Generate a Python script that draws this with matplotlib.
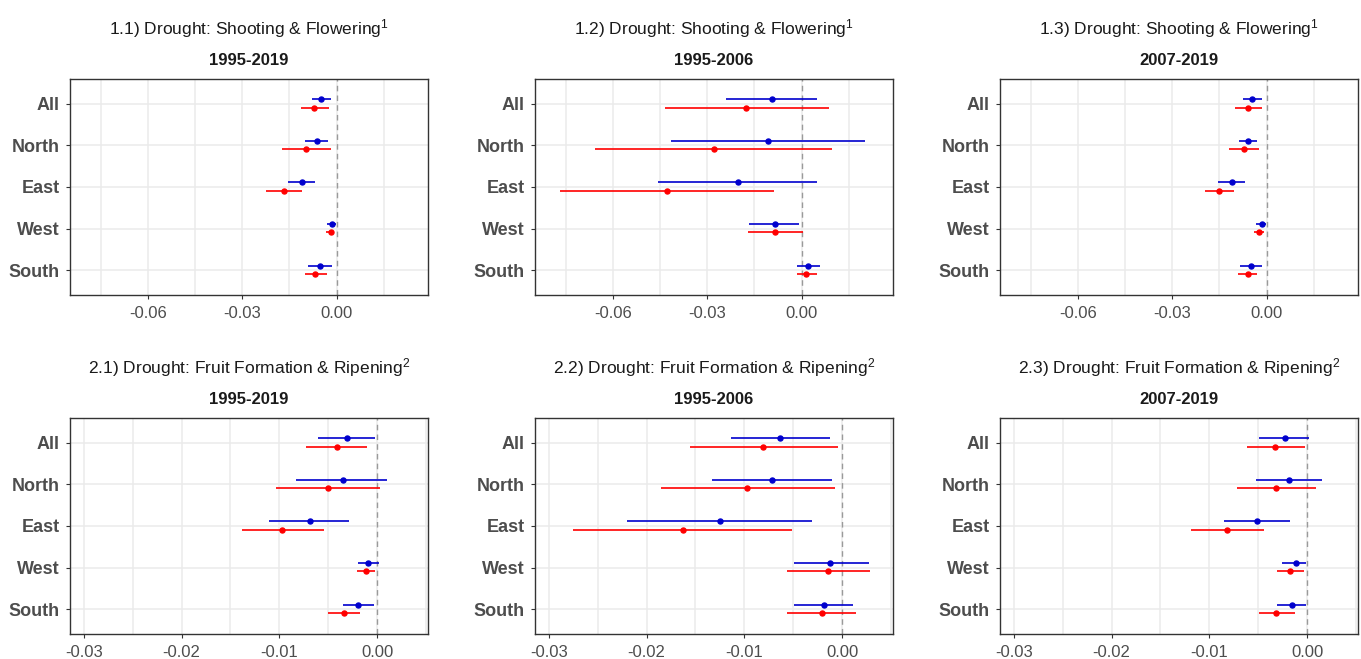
import matplotlib
matplotlib.use("Agg")
import matplotlib.pyplot as plt
import numpy as np

plt.rcParams["font.family"] = ["Liberation Sans", "DejaVu Sans"]
plt.rcParams["mathtext.fontset"] = "custom"
plt.rcParams["mathtext.rm"] = "Liberation Sans"
plt.rcParams["mathtext.default"] = "regular"

# --- Data ---

regions = ["All", "North", "East", "West", "South"]

# 1.1) Shooting & Flowering, 1995-2019
p11_blue = [-0.0050, -0.0063, -0.0110, -0.0014, -0.0053]
p11_blue_lo = [-0.0078, -0.0101, -0.0153, -0.0030, -0.0092]
p11_blue_hi = [-0.0019, -0.0027, -0.0068, -0.0002, -0.0014]
p11_red = [-0.0072, -0.0098, -0.0168, -0.0019, -0.0067]
p11_red_lo = [-0.0113, -0.0175, -0.0223, -0.0035, -0.0101]
p11_red_hi = [-0.0023, -0.0018, -0.0110, -0.0007, -0.0029]

# 1.2) Shooting & Flowering, 1995-2006
p12_blue = [-0.0093, -0.0106, -0.0202, -0.0085, 0.0020]
p12_blue_lo = [-0.0240, -0.0414, -0.0457, -0.0166, -0.0014]
p12_blue_hi = [0.0050, 0.0201, 0.0050, -0.0007, 0.0058]
p12_red = [-0.0177, -0.0280, -0.0427, -0.0085, 0.0015]
p12_red_lo = [-0.0435, -0.0656, -0.0769, -0.0169, -0.0014]
p12_red_hi = [0.0088, 0.0097, -0.0089, 0.0005, 0.0050]

# 1.3) Shooting & Flowering, 2007-2019
p13_blue = [-0.0046, -0.0059, -0.0111, -0.0015, -0.0051]
p13_blue_lo = [-0.0075, -0.0088, -0.0153, -0.0035, -0.0084]
p13_blue_hi = [-0.0013, -0.0029, -0.0068, -0.0003, -0.0013]
p13_red = [-0.0059, -0.0072, -0.0150, -0.0023, -0.0058]
p13_red_lo = [-0.0101, -0.0118, -0.0197, -0.0039, -0.0092]
p13_red_hi = [-0.0015, -0.0024, -0.0102, -0.0007, -0.0029]

# 2.1) Fruit Formation & Ripening, 1995-2019
p21_blue = [-0.00311, -0.00352, -0.00686, -0.00089, -0.00198]
p21_blue_lo = [-0.00601, -0.00826, -0.01106, -0.00198, -0.00352]
p21_blue_hi = [-0.00020, 0.00102, -0.00283, 0.00020, -0.00034]
p21_red = [-0.00410, -0.00505, -0.00969, -0.00116, -0.00338]
p21_red_lo = [-0.00730, -0.01038, -0.01386, -0.00208, -0.00505]
p21_red_hi = [-0.00102, 0.00034, -0.00539, -0.00020, -0.00174]

# 2.2) Fruit Formation & Ripening, 1995-2006
p22_blue = [-0.00635, -0.00720, -0.01249, -0.00119, -0.00188]
p22_blue_lo = [-0.01137, -0.01331, -0.02201, -0.00495, -0.00495]
p22_blue_hi = [-0.00123, -0.00106, -0.00304, 0.00270, 0.00116]
p22_red = [-0.00805, -0.00973, -0.01628, -0.00147, -0.00201]
p22_red_lo = [-0.01556, -0.01850, -0.02747, -0.00563, -0.00563]
p22_red_hi = [-0.00041, -0.00078, -0.00512, 0.00287, 0.00143]

# 2.3) Fruit Formation & Ripening, 2007-2019
p23_blue = [-0.00229, -0.00188, -0.00510, -0.00116, -0.00157]
p23_blue_lo = [-0.00493, -0.00520, -0.00845, -0.00257, -0.00311]
p23_blue_hi = [0.00020, 0.00147, -0.00174, -0.00007, -0.00007]
p23_red = [-0.00328, -0.00315, -0.00821, -0.00174, -0.00315]
p23_red_lo = [-0.00619, -0.00718, -0.01190, -0.00311, -0.00493]
p23_red_hi = [-0.00024, 0.00092, -0.00441, -0.00034, -0.00120]

titles = [
    "1.1) Drought: Shooting & Flowering$^1$",
    "1.2) Drought: Shooting & Flowering$^1$",
    "1.3) Drought: Shooting & Flowering$^1$",
    "2.1) Drought: Fruit Formation & Ripening$^2$",
    "2.2) Drought: Fruit Formation & Ripening$^2$",
    "2.3) Drought: Fruit Formation & Ripening$^2$",
]
periods = ["1995-2019", "1995-2006", "2007-2019"] * 2

top_ticks = [-0.06, -0.03, 0.00]
top_minor = [-0.075, -0.045, -0.015, 0.015]
bottom_ticks = [-0.03, -0.02, -0.01, 0.00]
bottom_minor = [-0.025, -0.015, -0.005, 0.005]

BLUE = "#0000CD"
RED = "#FF0000"
GREY30 = "#4D4D4D"
GRID = "#EBEBEB"


# --- Plot ---

def plot_panel(ax, blue, blue_lo, blue_hi, red, red_lo, red_hi,
               title, period, ticks, minor, xlim):
    y = np.arange(1, len(regions) + 1)

    for t in list(ticks) + list(minor):
        ax.axvline(t, color=GRID, linewidth=1.1, zorder=0)
    for yy in y:
        ax.axhline(yy, color=GRID, linewidth=1.1, zorder=0)
    ax.axvline(0, color="#9A9A9A", linestyle=(0, (4, 3)), linewidth=1.0, zorder=1)

    yb = y - 0.11
    yr = y + 0.09
    ax.hlines(yb, blue_lo, blue_hi, color=BLUE, linewidth=1.2, zorder=2)
    ax.plot(blue, yb, "o", color=BLUE, markersize=3.6, zorder=3)
    ax.hlines(yr, red_lo, red_hi, color=RED, linewidth=1.2, zorder=2)
    ax.plot(red, yr, "o", color=RED, markersize=3.6, zorder=3)

    ax.set_xlim(*xlim)
    ax.set_ylim(5.6, 0.4)
    ax.set_xticks(ticks)
    ax.set_xticklabels([f"{t:.2f}" for t in ticks])
    ax.set_yticks(y)
    ax.set_yticklabels(regions, fontweight="bold", fontsize=13, color=GREY30)
    ax.tick_params(axis="x", labelsize=12, labelcolor=GREY30, color="#333333",
                   length=2.7, width=0.8, pad=5)
    ax.tick_params(axis="y", color="#333333", length=2.7, width=0.8, pad=4.5)
    for s in ax.spines.values():
        s.set_color("#333333")
        s.set_linewidth(1.0)

    ax.text(0.5, 1 + 45 / 216, title, transform=ax.transAxes, ha="center",
            va="baseline", fontsize=12.5, color="#1A1A1A")
    ax.text(0.5, 1 + 13.5 / 216, period, transform=ax.transAxes, ha="center",
            va="baseline", fontsize=12, fontweight="bold", color="#1A1A1A")


W, H = 1361, 659
fig = plt.figure(figsize=(W / 100, H / 100), dpi=100)

lefts = [70, 535, 1000]
tops = [79, 418]
aw, ah = 358, 216

panels = [
    (p11_blue, p11_blue_lo, p11_blue_hi, p11_red, p11_red_lo, p11_red_hi),
    (p12_blue, p12_blue_lo, p12_blue_hi, p12_red, p12_red_lo, p12_red_hi),
    (p13_blue, p13_blue_lo, p13_blue_hi, p13_red, p13_red_lo, p13_red_hi),
    (p21_blue, p21_blue_lo, p21_blue_hi, p21_red, p21_red_lo, p21_red_hi),
    (p22_blue, p22_blue_lo, p22_blue_hi, p22_red, p22_red_lo, p22_red_hi),
    (p23_blue, p23_blue_lo, p23_blue_hi, p23_red, p23_red_lo, p23_red_hi),
]

for i, data in enumerate(panels):
    row, col = divmod(i, 3)
    ax = fig.add_axes([lefts[col] / W, 1 - (tops[row] + ah) / H, aw / W, ah / H])
    if row == 0:
        ticks, minor, xlim = top_ticks, top_minor, (-0.0848, 0.0291)
    else:
        ticks, minor, xlim = bottom_ticks, bottom_minor, (-0.0314, 0.0052)
    plot_panel(ax, *data, titles[i], periods[i], ticks, minor, xlim)

fig.savefig("out.png", dpi=100)
plt.close(fig)
